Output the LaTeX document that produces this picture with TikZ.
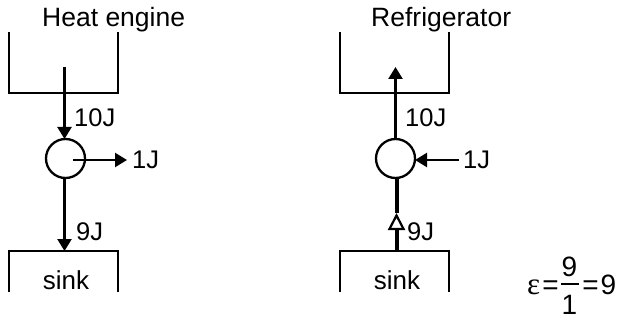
\documentclass[tikz,border=0pt]{standalone}
\usepackage{fontspec}
\setmainfont{Liberation Sans}
\newfontfamily\epsfont{Liberation Serif}
\usetikzlibrary{arrows.meta}
\tikzset{
  ln/.style={line width=2.3pt, line cap=butt},
  arr/.style={ln, -{Triangle[length=12pt,width=14pt]}},
  circ/.style={circle, draw, line width=2.3pt, minimum size=39pt, inner sep=0pt, outer sep=0pt},
  lab/.style={font=\fontsize{25.5}{30}\selectfont, inner sep=0pt, anchor=base west},
  ttl/.style={font=\fontsize{26.5}{30}\selectfont, inner sep=0pt, anchor=base west},
  snk/.style={font=\fontsize{26}{30}\selectfont, inner sep=0pt, anchor=base},
  frm/.style={font=\fontsize{28}{32}\selectfont, inner sep=0pt, anchor=base},
}
\begin{document}
\begin{tikzpicture}[x=1pt,y=-1pt]
\useasboundingbox (0,0) rectangle (617,320);
% ---------- Heat engine ----------
\node[ttl] (t1) at (42,27) {Heat engine};
\draw[ln] (9,32) |- (118,93) -- (118,32);
\coordinate (h1) at (64.5,67);
\node[circ] (c1) at (65.5,158.5) {};
\draw[arr] (h1) -- (c1.north -| h1);
\node[lab] (l10a) at (74,127) {10J};
\coordinate (o1s) at (73,160);
\coordinate (o1e) at (127,160);
\draw[arr] (o1s) -- (o1e);
\node[lab] (l1a) at (132,168.5) {1J};
\coordinate (s1) at (64.5,251);
\draw[arr] (c1.south -| s1) -- (s1);
\node[lab] (l9a) at (76,240) {9J};
\draw[ln] (9,292) |- (118,251) -- (118,292);
\node[snk] (sk1) at (66,289) {sink};
% ---------- Refrigerator ----------
\node[ttl] (t2) at (371,27) {Refrigerator};
\draw[ln] (340,32) |- (449,93) -- (449,32);
\coordinate (h2) at (395.5,67);
\node[circ] (c2) at (395.5,158.5) {};
\draw[arr] (c2.north) -- (h2);
\node[lab] (l10b) at (405,127) {10J};
\coordinate (i2) at (459,160);
\draw[arr] (i2) -- (c2.east |- i2);
\node[lab] (l1b) at (463,168.5) {1J};
\coordinate (s2) at (396.5,251);
\coordinate (m2) at (396.5,213);
\draw[line width=4pt, -{Triangle[open,length=17pt,width=17pt,line width=2.2pt]}] (s2) -- (m2);
\draw[line width=4pt] (m2) -- (c2.south -| m2);
\node[lab] (l9b) at (407,240) {9J};
\draw[ln] (340,292) |- (449,251) -- (449,292);
\node[snk] (sk2) at (397,289) {sink};
% ---------- formula ----------
\node[frm] (eps) at (533.5,294.5) {\epsfont\fontsize{31}{34}\selectfont ε};
\node[frm] (eq1) at (550.5,294.5) {=};
\node[frm] (num) at (569.5,276) {9};
\node[frm] (den) at (569.5,314.5) {1};
\draw[ln] (561,284) -- (579,284);
\node[frm] (eq2) at (590.5,294.5) {=};
\node[frm] (res) at (608.5,294.5) {9};
\end{tikzpicture}
\end{document}
